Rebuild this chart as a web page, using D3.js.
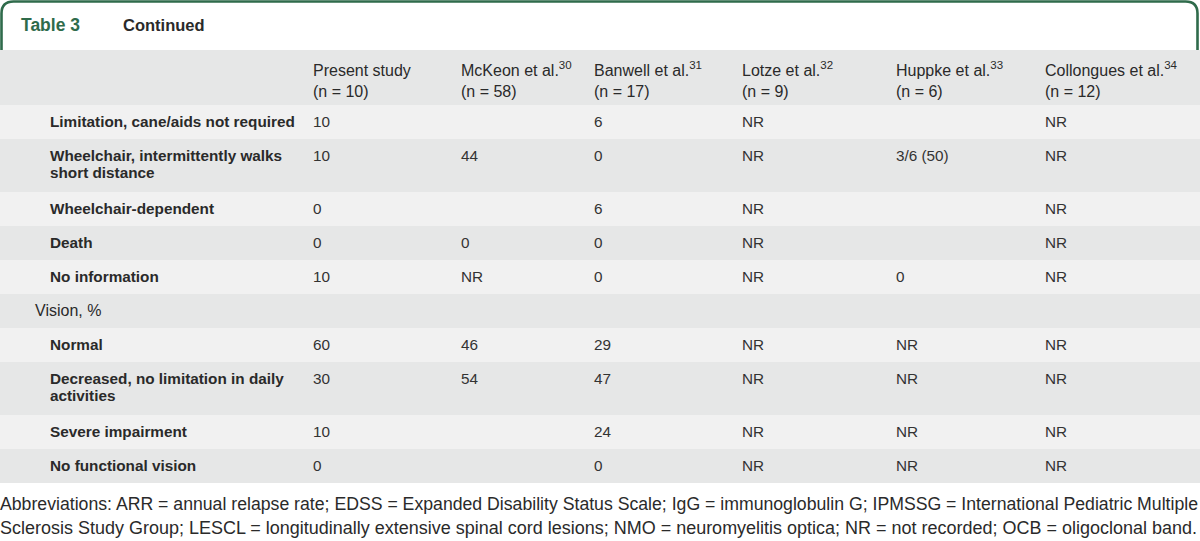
<!DOCTYPE html>
<html><head><meta charset="utf-8">
<script src="https://cdn.jsdelivr.net/npm/d3@7"></script>
<style>
html,body{margin:0;padding:0;background:#fff;}
svg{display:block;}
</style></head>
<body>
<script>
// ---- data ----
const tableTitle = "Table 3";
const tableSubtitle = "Continued";
const studies = ["Present study", "McKeon et al.", "Banwell et al.", "Lotze et al.", "Huppke et al.", "Collongues et al."];
const studyRefs = ["", "30", "31", "32", "33", "34"];
const studyN = ["(n = 10)", "(n = 58)", "(n = 17)", "(n = 9)", "(n = 6)", "(n = 12)"];
const rowLabels = [
  ["Limitation, cane/aids not required"],
  ["Wheelchair, intermittently walks", "short distance"],
  ["Wheelchair-dependent"],
  ["Death"],
  ["No information"],
  ["Vision, %"],
  ["Normal"],
  ["Decreased, no limitation in daily", "activities"],
  ["Severe impairment"],
  ["No functional vision"]
];
const rowLevel = [2, 2, 2, 2, 2, 1, 2, 2, 2, 2];
const presentStudy = ["10", "10", "0", "0", "10", "", "60", "30", "10", "0"];
const mckeon      = ["", "44", "", "0", "NR", "", "46", "54", "", ""];
const banwell     = ["6", "0", "6", "0", "0", "", "29", "47", "24", "0"];
const lotze       = ["NR", "NR", "NR", "NR", "NR", "", "NR", "NR", "NR", "NR"];
const huppke      = ["", "3/6 (50)", "", "", "0", "", "NR", "NR", "NR", "NR"];
const collongues  = ["NR", "NR", "NR", "NR", "NR", "", "NR", "NR", "NR", "NR"];
const footnoteLines = [
  "Abbreviations: ARR = annual relapse rate; EDSS = Expanded Disability Status Scale; IgG = immunoglobulin G; IPMSSG = International Pediatric Multiple",
  "Sclerosis Study Group; LESCL = longitudinally extensive spinal cord lesions; NMO = neuromyelitis optica; NR = not recorded; OCB = oligoclonal band."
];

const columns = [presentStudy, mckeon, banwell, lotze, huppke, collongues];

// ---- layout ----
const W = 1200, H = 541;
const green = "#2f6b4b";
const svg = d3.select("body").append("svg").attr("width", W).attr("height", H);
const bodyFont = "'Liberation Sans', Arial, sans-serif";

// header tab
const tabH = 50, r = 12;
svg.append("path")
  .attr("d", `M1.5,${tabH} L1.5,${r+1.5} Q1.5,1.5 ${r+1.5},1.5 L${W-r-2.5},1.5 Q${W-2.5},1.5 ${W-2.5},${r+1.5} L${W-2.5},${tabH}`)
  .attr("fill", "#fff").attr("stroke", green).attr("stroke-width", 2.6);
svg.append("text").attr("x", 21).attr("y", 31).text(tableTitle)
  .attr("font-family", bodyFont).attr("font-weight", "bold").attr("font-size", 17.5).attr("fill", green);
svg.append("text").attr("x", 123).attr("y", 31).text(tableSubtitle)
  .attr("font-family", bodyFont).attr("font-weight", "bold").attr("font-size", 16.5).attr("fill", "#2a2a2a");

// column header band
const headTop = 50, headBottom = 105;
svg.append("rect").attr("x", 0).attr("y", headTop).attr("width", W).attr("height", headBottom - headTop).attr("fill", "#e6e7e7");

const colX = d3.scaleOrdinal().domain(d3.range(6)).range([313, 461, 594, 742, 896, 1045]);

const hdr = svg.append("g").attr("font-family", bodyFont).attr("font-size", 16).attr("fill", "#2a2a2a");
studies.forEach((s, i) => {
  const t = hdr.append("text").attr("x", colX(i)).attr("y", 76);
  t.append("tspan").text(s);
  if (studyRefs[i]) t.append("tspan").attr("dy", -7).attr("font-size", 11.5).text(studyRefs[i]);
  hdr.append("text").attr("x", colX(i)).attr("y", 97).text(studyN[i]);
});

// rows
const singleH = 34, lineH = 17;
const heights = rowLabels.map(l => singleH + (l.length - 1) * 19);
const tops = [];
heights.reduce((acc, h) => { tops.push(acc); return acc + h; }, headBottom);

const rows = svg.append("g").selectAll("g").data(rowLabels).join("g")
  .attr("transform", (d, i) => `translate(0,${tops[i]})`);
rows.append("rect").attr("x", 0).attr("y", 0).attr("width", W)
  .attr("height", (d, i) => heights[i])
  .attr("fill", (d, i) => i % 2 === 0 ? "#f1f1f1" : "#e6e7e7");

rows.each(function(lines, i) {
  const g = d3.select(this);
  const x = rowLevel[i] === 2 ? 50 : 35;
  lines.forEach((ln, k) => {
    g.append("text").attr("x", x).attr("y", 22 + k * lineH).text(ln)
      .attr("font-family", bodyFont).attr("font-weight", rowLevel[i] === 2 ? "bold" : "normal")
      .attr("font-size", rowLevel[i] === 2 ? 15.3 : 16).attr("fill", "#2a2a2a");
  });
  columns.forEach((col, c) => {
    if (col[i]) g.append("text").attr("x", colX(c)).attr("y", 22).text(col[i])
      .attr("font-family", bodyFont).attr("font-size", 15.3).attr("fill", "#333");
  });
});

// footnote
const foot = svg.append("g").attr("font-family", "'Liberation Sans Narrow', 'Liberation Sans', Arial, sans-serif")
  .attr("font-size", 17.5).attr("fill", "#2a2a2a");
footnoteLines.forEach((t, i) => {
  foot.append("text").attr("x", 0).attr("y", 510 + i * 24).text(t)
    .attr("textLength", i === 0 ? 1198 : 1197).attr("lengthAdjust", "spacingAndGlyphs");
});
</script>
</body></html>
